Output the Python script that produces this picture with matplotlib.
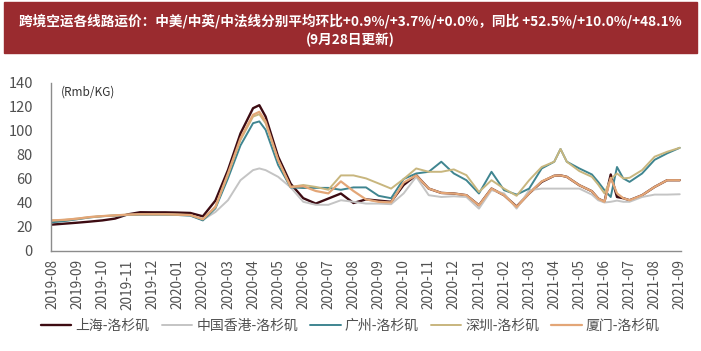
import matplotlib
matplotlib.use('Agg')
import matplotlib.pyplot as plt
from matplotlib.patches import Rectangle

plt.rcParams['font.family'] = ['Noto Sans CJK SC', 'DejaVu Sans']

# 月份刻度 (2019-08 .. 2021-09)
months = ['2019-08', '2019-09', '2019-10', '2019-11', '2019-12',
          '2020-01', '2020-02', '2020-03', '2020-04', '2020-05', '2020-06',
          '2020-07', '2020-08', '2020-09', '2020-10', '2020-11', '2020-12',
          '2021-01', '2021-02', '2021-03', '2021-04', '2021-05', '2021-06',
          '2021-07', '2021-08', '2021-09']

# x = 월 인덱스 (0 = 2019-08)
xs = [0, 0.5, 1, 1.5, 2, 2.5, 3, 3.5, 4, 4.5, 5, 5.5, 6, 6.5, 7, 7.5, 8, 8.25,
      8.5, 9, 9.5, 10, 10.5, 11, 11.5, 12, 12.5, 13, 13.5, 14, 14.5, 15, 15.5,
      16, 16.5, 17, 17.5, 18, 18.5, 19, 19.5, 20, 20.25, 20.5, 21, 21.5, 21.75,
      22, 22.25, 22.5, 22.75, 23, 23.5, 24, 24.5, 25]

shanghai = [22, 22.8, 23.6, 24.5, 25.5, 27, 30.5, 32.3, 32.2, 32.2, 32, 31.7,
            28.9, 42, 67.4, 98, 119, 121.5, 112, 78.6, 56, 44, 39.5, 43.7, 47.9,
            40, 43, 42, 41, 55, 63.2, 52, 48.4, 47.9, 46.5, 38.1, 52, 46.5, 37,
            48, 57.6, 62.7, 63, 61.8, 54.8, 49.8, 43.7, 41, 63.8, 45, 44, 42.3,
            46.5, 53.4, 59, 59]
hongkong = [24, 25, 26.5, 28, 29, 29.5, 30, 30.3, 30.3, 30.3, 30, 29.5, 26,
            32.5, 42.3, 59, 67.4, 68.8, 67.4, 61.8, 53, 41, 38.5, 38.5, 42.3,
            41, 39.5, 39.5, 39, 48, 61.8, 46.5, 45, 45.6, 45, 35.3, 50.7, 48,
            35.3, 50.7, 52, 52, 52, 52, 52, 47, 42.3, 40.4, 41, 42, 41, 41, 45,
            47, 47, 47.3]
guangzhou = [24, 25, 26.5, 28, 29, 29.5, 30, 30.3, 30.3, 30.3, 30, 29.5, 25.5,
             35.5, 60.5, 88, 106.5, 108, 101, 71.6, 53, 52.5, 52.6, 52.6, 51,
             53, 53, 46, 44, 60, 64.6, 66, 74.4, 64.6, 59, 47.9, 66, 50.7, 47,
             52, 68.8, 74.4, 85, 74.4, 68.8, 63.8, 57.6, 50.7, 45, 70, 60.5,
             57.6, 64.6, 76, 81.4, 86]
shenzhen = [25.5, 26, 27, 28.3, 29.1, 29.7, 30.3, 30.6, 30.6, 30.6, 30.3, 30,
            26.5, 36.5, 63.5, 92.5, 112, 114, 106.5, 75.8, 53.4, 55, 53.4, 51,
            63, 63, 60.5, 56.3, 52, 60, 68.8, 66, 66, 68, 63.2, 49.2, 59, 52,
            46, 59, 70, 74.4, 85, 74.4, 66.6, 61.8, 55.4, 48, 60, 64.6, 60.5,
            61, 67.4, 78.6, 82.7, 86]
xiamen = [25.5, 26, 27, 28.3, 29.1, 29.7, 30.3, 30.6, 30.6, 30.6, 30.3, 30,
          26.5, 37, 64.6, 94, 113.5, 116, 108, 75.8, 53.4, 54, 50, 48, 58, 50,
          43, 41, 40.5, 57, 63, 52, 48.4, 47.9, 46.5, 38, 52, 46.5, 36.7, 48,
          58, 62.7, 63, 61.8, 54.8, 49.8, 43.7, 41, 61, 48, 44, 42.3, 46.5,
          53.4, 59, 59]

series = [
    ('上海-洛杉矶', shanghai, '#3d0b12', 1.7),
    ('中国香港-洛杉矶', hongkong, '#c4c4c4', 1.4),
    ('广州-洛杉矶', guangzhou, '#3f8590', 1.4),
    ('深圳-洛杉矶', shenzhen, '#c8b67e', 1.4),
    ('厦门-洛杉矶', xiamen, '#e3a677', 1.6),
]

fig = plt.figure(figsize=(7.01, 3.51), dpi=100)
ax = fig.add_axes([51 / 701, 1 - 251 / 351, 630 / 701, 168 / 351])

for name, vals, col, lw in series:
    ax.plot(xs, vals, color=col, lw=lw, label=name, solid_capstyle='round')

ax.set_xlim(-0.05, 25.05)
ax.set_ylim(0, 140)
ax.set_yticks(range(0, 141, 20))
ax.set_xticks(range(len(months)))
ax.set_xticklabels(months, rotation=90)
ax.tick_params(axis='both', length=0, labelcolor='#505050')
ax.tick_params(axis='y', labelsize=10.5, pad=13)
ax.tick_params(axis='x', labelsize=9.8, pad=6)
for s in ['top', 'right']:
    ax.spines[s].set_visible(False)
for s in ['left', 'bottom']:
    ax.spines[s].set_color('#8c8c8c')
    ax.spines[s].set_linewidth(1)

ax.text(0.015, 0.985, '(Rmb/KG)', transform=ax.transAxes, fontsize=8.5,
        color='#333333', va='top', ha='left')

# 标题
fig.patches.append(Rectangle((4 / 701, 1 - 53 / 351), 693 / 701, 51 / 351,
                             transform=fig.transFigure, color='#9a2b2f', zorder=0))
fig.text(0.5, 1 - 21 / 351,
         '跨境空运各线路运价：中美/中英/中法线分别平均环比+0.9%/+3.7%/+0.0%，同比 +52.5%/+10.0%/+48.1%',
         ha='center', va='center', color='white', fontsize=9.8, fontweight='bold')
fig.text(0.5, 1 - 40 / 351, '(9月28日更新)', ha='center', va='center',
         color='white', fontsize=9.8, fontweight='bold')

fig.legend(loc='center', bbox_to_anchor=(0.5, 1 - 326 / 351), ncol=5,
           frameon=False, fontsize=10, handlelength=2.2, columnspacing=0.85,
           handletextpad=0.3, labelcolor='#505050')

fig.savefig('out.png', dpi=100)
